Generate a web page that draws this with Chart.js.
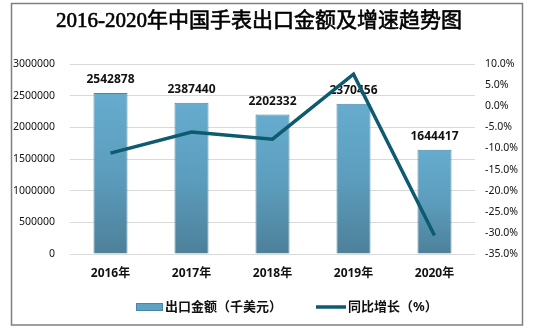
<!DOCTYPE html>
<html><head><meta charset="utf-8">
<script src="https://cdn.jsdelivr.net/npm/chart.js@4.4.1/dist/chart.umd.min.js"></script>
<style>html,body{margin:0;padding:0;background:#fff;}#wrap{width:539px;height:333px;position:relative;}</style>
</head><body><div id="wrap"><canvas id="c"></canvas></div>
<script>
const titleText = "2016-2020年中国手表出口金额及增速趋势图";
const categories = ["2016年", "2017年", "2018年", "2019年", "2020年"];
const exportValues = [2542878, 2387440, 2202332, 2370456, 1644417];
const growthRates = [-11.1, -6.1, -7.8, 7.6, -30.6];
const seriesNames = ["出口金额（千美元）", "同比增长（%）"];
const leftTicks = {min: 0, max: 3000000, step: 500000};
const rightTicks = {min: -35, max: 10, step: 5};

const FONT = '"Noto Sans", "Noto Sans CJK SC", sans-serif';

const decor = {
  id: 'decor',
  afterDatasetDraw(chart, args) {
    if (args.index !== 0) return;
    const ctx = chart.ctx;
    ctx.save();
    ctx.font = 'bold 12px ' + FONT;
    ctx.fillStyle = '#111';
    ctx.textAlign = 'center';
    ctx.textBaseline = 'middle';
    args.meta.data.forEach((bar, i) => {
      ctx.fillText(String(exportValues[i]), bar.x, bar.y - 13);
    });
    ctx.restore();
  },
  afterDraw(chart) {
    const ctx = chart.ctx;
    ctx.save();
    // title
    ctx.font = 'normal 21px "Liberation Serif", "Noto Sans CJK SC", serif';
    ctx.fillStyle = '#000';
    ctx.strokeStyle = '#000';
    ctx.lineWidth = 0.6;
    ctx.textAlign = 'center';
    ctx.textBaseline = 'middle';
    ctx.fillText(titleText, 259, 21);
    ctx.strokeText(titleText, 259, 21);
    // legend
    const ds = chart.data.datasets;
    const ly = 307;
    ctx.font = 'bold 13px ' + FONT;
    ctx.textAlign = 'left';
    ctx.fillStyle = '#5fa2c3';
    ctx.fillRect(136, ly - 4, 27, 8);
    ctx.strokeStyle = ds[0].borderColor;
    ctx.lineWidth = 1;
    ctx.strokeRect(136.5, ly - 3.5, 26, 7);
    ctx.fillStyle = '#111';
    ctx.fillText(ds[0].label, 165, ly);
    ctx.strokeStyle = ds[1].borderColor;
    ctx.lineWidth = 3.5;
    ctx.beginPath();
    ctx.moveTo(316, ly);
    ctx.lineTo(346, ly);
    ctx.stroke();
    ctx.fillText(ds[1].label, 348, ly);
    // border
    ctx.strokeStyle = '#7f7f7f';
    ctx.lineWidth = 1.5;
    ctx.strokeRect(11.5, 3.5, 511, 321.5);
    ctx.restore();
  }
};

function barGradient(context) {
  const chart = context.chart;
  const area = chart.chartArea;
  if (!area || context.type !== 'data') return '#64a9c9';
  const yScale = chart.scales.y;
  const top = yScale.getPixelForValue(context.raw);
  const g = chart.ctx.createLinearGradient(0, top, 0, area.bottom);
  g.addColorStop(0, '#66acce');
  g.addColorStop(0.5, '#5c9dbd');
  g.addColorStop(1, '#4d8099');
  return g;
}

new Chart(document.getElementById('c'), {
  data: {
    labels: categories,
    datasets: [
      {
        type: 'bar', label: seriesNames[0], data: exportValues, yAxisID: 'y', order: 1,
        backgroundColor: barGradient, borderColor: '#4a86a3', borderWidth: 1,
        barPercentage: 0.42, categoryPercentage: 1
      },
      {
        type: 'line', label: seriesNames[1], data: growthRates, yAxisID: 'y1', order: 0,
        borderColor: '#0e5a70', backgroundColor: '#0e5a70', borderWidth: 3.5,
        pointRadius: 0, tension: 0, borderCapStyle: 'butt', borderJoinStyle: 'miter'
      }
    ]
  },
  options: {
    responsive: true, maintainAspectRatio: false, animation: false,
    layout: {padding: {top: 64, bottom: 43, left: 0, right: 0}},
    plugins: {
      title: {display: false},
      tooltip: {enabled: false},
      legend: {display: false}
    },
    scales: {
      x: {
        grid: {display: false, drawTicks: false},
        border: {display: false},
        ticks: {padding: 12, color: '#111', font: {family: FONT, size: 12, weight: 'bold'}},
        afterFit(s) { s.height = 36; }
      },
      y: {
        position: 'left', min: leftTicks.min, max: leftTicks.max,
        grid: {color: '#d9d9d9', lineWidth: 1, drawTicks: false},
        border: {display: false},
        ticks: {stepSize: leftTicks.step, padding: 15, color: '#111', font: {family: FONT, size: 10.5},
          callback: v => String(v)},
        afterFit(s) { s.width = 70; }
      },
      y1: {
        position: 'right', min: rightTicks.min, max: rightTicks.max,
        grid: {display: false, drawTicks: false},
        border: {display: false},
        ticks: {stepSize: rightTicks.step, padding: 10, color: '#111', font: {family: FONT, size: 10.5},
          callback: v => v.toFixed(1) + '%'},
        afterFit(s) { s.width = 64; }
      }
    }
  },
  plugins: [decor]
});
</script></body></html>
